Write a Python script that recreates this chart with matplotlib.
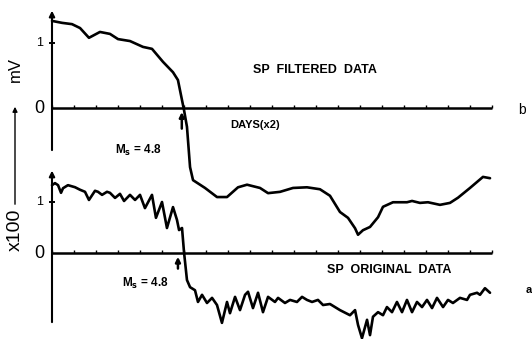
import numpy as np
import matplotlib
matplotlib.use("Agg")
import matplotlib.pyplot as plt

# filtered SP curve (b): days (x2 units), value in mV x100
days_b = [0, 0.91, 1.82, 2.55, 3.36, 4.36, 5.27, 6.0, 7.09, 8.27, 9.09, 10.09, 11.0, 11.45,
          11.82, 12.0, 12.27, 12.55, 12.82, 13.91, 15.0, 15.91, 16.91, 17.73, 18.91, 19.64,
          20.73, 21.91, 23.18, 24.36, 25.27, 26.18, 26.91, 27.55, 27.82, 28.27, 28.91, 29.64,
          30.09, 31.0, 32.27, 32.73, 33.45, 34.18, 35.27, 36.18, 36.91, 38.0, 39.18, 39.82]
sp_b = [1.34, 1.31, 1.29, 1.23, 1.08, 1.17, 1.14, 1.06, 1.03, 0.94, 0.91, 0.71, 0.55, 0.43,
        0.12, -0.03, -0.29, -0.91, -1.11, -1.23, -1.37, -1.37, -1.22, -1.18, -1.23, -1.31,
        -1.29, -1.23, -1.22, -1.25, -1.35, -1.6, -1.69, -1.85, -1.95, -1.88, -1.83, -1.68,
        -1.52, -1.45, -1.45, -1.43, -1.46, -1.45, -1.49, -1.46, -1.38, -1.23, -1.06, -1.08]

# original SP curve (a)
days_a = [0, 0.27, 0.55, 0.82, 1.0, 1.45, 2.09, 2.55, 3.0, 3.36, 3.91, 4.18, 4.55, 5.0, 5.27,
          5.73, 6.18, 6.55, 7.09, 7.55, 8.0, 8.45, 9.09, 9.45, 10.0, 10.45, 11.0, 11.36, 11.55,
          11.82, 12.0, 12.27, 12.55, 13.0, 13.27, 13.64, 14.09, 14.55, 15.0, 15.45, 15.91,
          16.18, 16.64, 17.09, 17.55, 17.82, 18.27, 18.73, 19.18, 19.64, 20.27, 20.55, 21.18,
          21.64, 22.27, 22.73, 23.18, 23.64, 24.18, 24.64, 25.27, 26.18, 27.09, 27.55, 27.82,
          28.18, 28.64, 28.91, 29.18, 29.64, 30.09, 30.45, 30.91, 31.36, 31.82, 32.27, 32.73,
          33.18, 33.64, 34.09, 34.55, 35.0, 35.55, 36.0, 36.45, 37.09, 37.73, 38.0, 38.64,
          38.91, 39.36, 39.82]
sp_a = [1.33, 1.37, 1.33, 1.18, 1.27, 1.33, 1.29, 1.24, 1.2, 1.04, 1.22, 1.2, 1.14, 1.2, 1.18,
        1.08, 1.16, 1.02, 1.14, 1.04, 1.14, 0.88, 1.14, 0.69, 1.0, 0.49, 0.9, 0.65, 0.45,
        0.49, 0.02, -0.53, -0.67, -0.73, -0.96, -0.82, -0.98, -0.88, -1.02, -1.37, -0.96,
        -1.18, -0.86, -1.12, -0.82, -0.76, -1.08, -0.78, -1.16, -0.86, -0.96, -0.88, -0.98,
        -0.92, -0.96, -0.86, -0.92, -0.96, -0.92, -1.02, -1.0, -1.12, -1.22, -1.12, -1.41,
        -1.67, -1.31, -1.61, -1.25, -1.16, -1.22, -1.06, -1.16, -0.96, -1.16, -0.92, -1.16,
        -0.96, -1.06, -0.92, -1.08, -0.88, -1.06, -0.92, -0.98, -0.88, -0.92, -0.82, -0.78,
        -0.82, -0.69, -0.78]

day_ticks = np.arange(0, 41, 2)
onset_b = 11.8
onset_a = 11.45

W, H = 532, 339
fig = plt.figure(figsize=(W / 100, H / 100), dpi=100)
plt.rcParams['font.family'] = ['Liberation Sans', 'DejaVu Sans']

ax_b = fig.add_axes([0, 0, 1, 1])
ax_a = fig.add_axes([0, 0, 1, 1])
for ax in (ax_a, ax_b):
    ax.set_xlim(-52 / 11, 480 / 11)
    ax.axis('off')
    ax.patch.set_alpha(0)
ax_b.set_ylim(-231 / 65, 108 / 65)
ax_a.set_ylim(-86 / 51, 253 / 51)

k = 'black'

def draw_frame(ax, ybot, ytop, onset, tick_h):
    ax.hlines(0, 0, 40, color=k, lw=1.8)
    ax.vlines(day_ticks, 0, tick_h, color=k, lw=1.0)
    ax.annotate('', xy=(0, ytop), xytext=(0, ybot),
                arrowprops=dict(arrowstyle='-|>', color=k, lw=1.5, mutation_scale=8))
    ax.hlines(1, -0.3, 0.3, color=k, lw=1.4)
    ax.annotate('', xy=(onset, -0.02), xytext=(onset, -0.36),
                arrowprops=dict(arrowstyle='-|>', color=k, lw=1.8, mutation_scale=7))

draw_frame(ax_b, -0.69, 1.54, onset_b, 0.04)
draw_frame(ax_a, -1.41, 1.67, onset_a, 0.05)

ax_b.plot(days_b, sp_b, color=k, lw=1.9, solid_joinstyle='round', solid_capstyle='round')
ax_a.plot(days_a, sp_a, color=k, lw=1.9, solid_joinstyle='round', solid_capstyle='round')

tfont = dict(fontsize=9, fontweight='bold', color=k)
ax_b.text(18.27, 0.585, 'SP  FILTERED  DATA', ha='left', va='center', **tfont)
ax_b.text(16.18, -0.26, 'DAYS(x2)', ha='left', va='center', fontsize=8, fontweight='bold', color=k)
ax_b.text(7.8, -0.65, 'M$_\\mathbf{s}$ = 4.8', ha='center', va='center', fontsize=8.5,
          fontweight='bold', color=k)
ax_a.text(25.0, -0.33, 'SP  ORIGINAL  DATA', ha='left', va='center', **tfont)
ax_a.text(8.45, -0.59, 'M$_\\mathbf{s}$ = 4.8', ha='center', va='center', fontsize=8.5,
          fontweight='bold', color=k)

ax_b.text(42.7, -0.03, 'b', ha='center', va='center', fontsize=10, color=k)
ax_a.text(43.3, -0.73, 'a', ha='center', va='center', fontsize=8, fontweight='bold', color=k)

ax_b.text(-0.8, 1, '1', ha='right', va='center', fontsize=9, color=k)
ax_b.text(-0.7, 0, '0', ha='right', va='center', fontsize=13, color=k)
ax_a.text(-0.8, 1, '1', ha='right', va='center', fontsize=9, color=k)
ax_a.text(-0.7, 0, '0', ha='right', va='center', fontsize=13, color=k)

lx = 15 / W
fig.text(lx, 1 - 230 / H, 'x100', rotation=90, ha='center', va='center', fontsize=14, color=k)
fig.text(lx, 1 - 70 / H, 'mV', rotation=90, ha='center', va='center', fontsize=12, color=k)
ax_b.annotate('', xy=(lx, 1 - 104 / H), xytext=(lx, 1 - 207 / H),
              xycoords='figure fraction', textcoords='figure fraction',
              arrowprops=dict(arrowstyle='-|>', color=k, lw=1.0, mutation_scale=7))

fig.savefig('out.png', dpi=100)
